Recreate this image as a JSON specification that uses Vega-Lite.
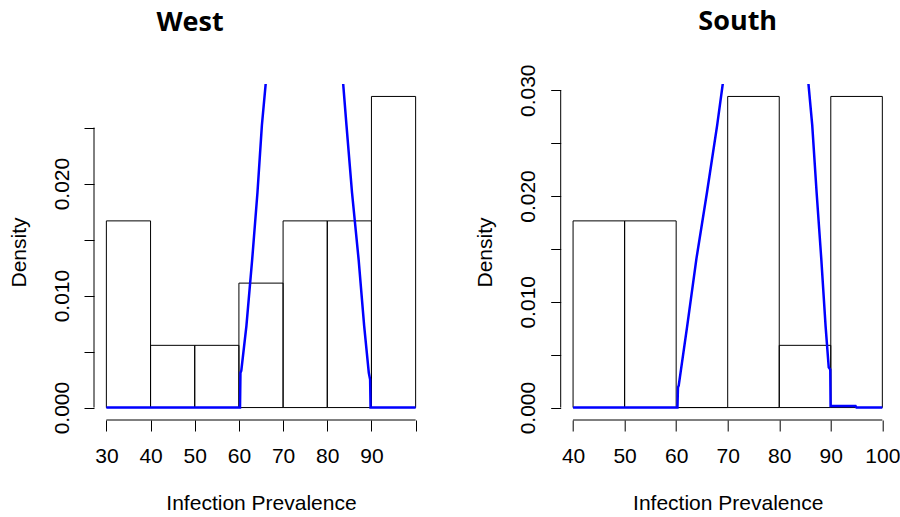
{
  "$schema": "https://vega.github.io/schema/vega-lite/v6.json",
  "background": "white",
  "padding": {"left": 8, "top": 7, "right": 0, "bottom": 0},
  "spacing": 45.7,
  "config": {
    "view": {"stroke": null},
    "font": "Liberation Sans",
    "axis": {
      "labelFont": "Liberation Sans", "titleFont": "Liberation Sans",
      "labelFontSize": 21, "titleFontSize": 21, "titleFontWeight": "normal",
      "labelColor": "black", "titleColor": "black", "tickColor": "black",
      "grid": false, "domain": false, "tickWidth": 1,
      "labelOverlap": false, "labelFlush": false
    },
    "title": {"font": "Open Sans", "fontSize": 27, "fontWeight": "bold", "color": "black"}
  },
  "datasets": {
    "west_bins": [
      {"bin_start": 30, "bin_end": 40, "density": 0.016667},
      {"bin_start": 40, "bin_end": 50, "density": 0.005556},
      {"bin_start": 50, "bin_end": 60, "density": 0.005556},
      {"bin_start": 60, "bin_end": 70, "density": 0.011111},
      {"bin_start": 70, "bin_end": 80, "density": 0.016667},
      {"bin_start": 80, "bin_end": 90, "density": 0.016667},
      {"bin_start": 90, "bin_end": 100, "density": 0.027778}
    ],
    "west_line": [
      {"x": 30, "y": 0},
      {"x": 60.25, "y": 0},
      {"x": 60.35, "y": 0.0031},
      {"x": 60.54, "y": 0.0033},
      {"x": 61.7, "y": 0.0073},
      {"x": 63.0, "y": 0.0132},
      {"x": 64.2, "y": 0.0192},
      {"x": 65.2, "y": 0.0252},
      {"x": 66.2, "y": 0.0295},
      {"x": 75.0, "y": 0.069},
      {"x": 83.6, "y": 0.0289},
      {"x": 84.35, "y": 0.0252},
      {"x": 85.6, "y": 0.0192},
      {"x": 87.1, "y": 0.0132},
      {"x": 88.35, "y": 0.0073},
      {"x": 89.4, "y": 0.0031},
      {"x": 89.7, "y": 0.0025},
      {"x": 89.8, "y": 0},
      {"x": 100, "y": 0}
    ],
    "south_bins": [
      {"bin_start": 40, "bin_end": 50, "density": 0.017647},
      {"bin_start": 50, "bin_end": 60, "density": 0.017647},
      {"bin_start": 60, "bin_end": 70, "density": 0},
      {"bin_start": 70, "bin_end": 80, "density": 0.029412},
      {"bin_start": 80, "bin_end": 90, "density": 0.005882},
      {"bin_start": 90, "bin_end": 100, "density": 0.029412}
    ],
    "south_line": [
      {"x": 40, "y": 0},
      {"x": 60.25, "y": 0},
      {"x": 60.35, "y": 0.0019},
      {"x": 60.5, "y": 0.0021},
      {"x": 62.14, "y": 0.0077},
      {"x": 63.94, "y": 0.0141},
      {"x": 66.0, "y": 0.0204},
      {"x": 67.96, "y": 0.0267},
      {"x": 69.1, "y": 0.0308},
      {"x": 77.5, "y": 0.06},
      {"x": 85.63, "y": 0.0308},
      {"x": 86.4, "y": 0.0267},
      {"x": 87.24, "y": 0.0204},
      {"x": 88.15, "y": 0.0141},
      {"x": 88.99, "y": 0.0077},
      {"x": 89.6, "y": 0.0038},
      {"x": 89.9, "y": 0.0036},
      {"x": 89.96, "y": 0.00015},
      {"x": 94.8, "y": 0.00015},
      {"x": 95.0, "y": 0},
      {"x": 100, "y": 0}
    ]
  },
  "hconcat": [
    {
      "width": 334,
      "height": 336,
      "title": {"text": "West", "dx": -71, "offset": 26, "baseline": "alphabetic"},
      "layer": [
        {
          "data": {"name": "west_bins"},
          "mark": {"type": "rect", "fill": "transparent", "stroke": "black", "strokeWidth": 1},
          "encoding": {
            "x": {
              "field": "bin_start", "type": "quantitative",
              "scale": {"domain": [27.2, 102.8], "nice": false, "zero": false},
              "axis": {
                "values": [30, 40, 50, 60, 70, 80, 90, 100],
                "labelExpr": "datum.value == 100 ? '' : datum.label",
                "format": "d", "tickSize": 11, "labelPadding": 14,
                "title": "Infection Prevalence", "titlePadding": 26.5
              }
            },
            "x2": {"field": "bin_end"},
            "y": {
              "field": "density", "type": "quantitative",
              "scale": {"domain": [-0.001111, 0.028889], "nice": false, "zero": false},
              "axis": {
                "values": [0, 0.005, 0.01, 0.015, 0.02, 0.025],
                "labelExpr": "(datum.value == 0 || datum.value == 0.01 || datum.value == 0.02 || datum.value == 0.03) ? format(datum.value, '.3f') : ''",
                "tickSize": 10, "labelAngle": -90, "labelAlign": "center",
                "labelBaseline": "alphabetic", "labelPadding": 16,
                "title": "Density", "titlePadding": 22
              }
            },
            "y2": {"datum": 0}
          }
        },
        {
          "data": {"name": "west_line"},
          "mark": {"type": "line", "color": "#0000FF", "strokeWidth": 2.5, "clip": true},
          "encoding": {
            "x": {"field": "x", "type": "quantitative"},
            "y": {"field": "y", "type": "quantitative"}
          }
        },
        {
          "data": {"values": [{}]},
          "mark": {"type": "rule", "color": "black", "strokeWidth": 1},
          "encoding": {"x": {"datum": 30}, "x2": {"datum": 100}, "y": {"datum": -0.001111}}
        },
        {
          "data": {"values": [{}]},
          "mark": {"type": "rule", "color": "black", "strokeWidth": 1},
          "encoding": {"x": {"datum": 27.2}, "y": {"datum": 0}, "y2": {"datum": 0.025}}
        }
      ]
    },
    {
      "width": 334,
      "height": 336,
      "title": {"text": "South", "dx": 10, "offset": 7, "baseline": "alphabetic"},
      "layer": [
        {
          "data": {"name": "south_bins"},
          "mark": {"type": "rect", "fill": "transparent", "stroke": "black", "strokeWidth": 1},
          "encoding": {
            "x": {
              "field": "bin_start", "type": "quantitative",
              "scale": {"domain": [37.6, 102.4], "nice": false, "zero": false},
              "axis": {
                "values": [40, 50, 60, 70, 80, 90, 100],
                "format": "d", "tickSize": 11, "labelPadding": 14,
                "title": "Infection Prevalence", "titlePadding": 26.5
              }
            },
            "x2": {"field": "bin_end"},
            "y": {
              "field": "density", "type": "quantitative",
              "scale": {"domain": [-0.001176, 0.030588], "nice": false, "zero": false},
              "axis": {
                "values": [0, 0.005, 0.01, 0.015, 0.02, 0.025, 0.03],
                "labelExpr": "(datum.value == 0 || datum.value == 0.01 || datum.value == 0.02 || datum.value == 0.03) ? format(datum.value, '.3f') : ''",
                "tickSize": 10, "labelAngle": -90, "labelAlign": "center",
                "labelBaseline": "alphabetic", "labelPadding": 16,
                "title": "Density", "titlePadding": 22
              }
            },
            "y2": {"datum": 0}
          }
        },
        {
          "data": {"name": "south_line"},
          "mark": {"type": "line", "color": "#0000FF", "strokeWidth": 2.5, "clip": true},
          "encoding": {
            "x": {"field": "x", "type": "quantitative"},
            "y": {"field": "y", "type": "quantitative"}
          }
        },
        {
          "data": {"values": [{}]},
          "mark": {"type": "rule", "color": "black", "strokeWidth": 1},
          "encoding": {"x": {"datum": 40}, "x2": {"datum": 100}, "y": {"datum": -0.001176}}
        },
        {
          "data": {"values": [{}]},
          "mark": {"type": "rule", "color": "black", "strokeWidth": 1},
          "encoding": {"x": {"datum": 37.6}, "y": {"datum": 0}, "y2": {"datum": 0.03}}
        }
      ]
    }
  ]
}
